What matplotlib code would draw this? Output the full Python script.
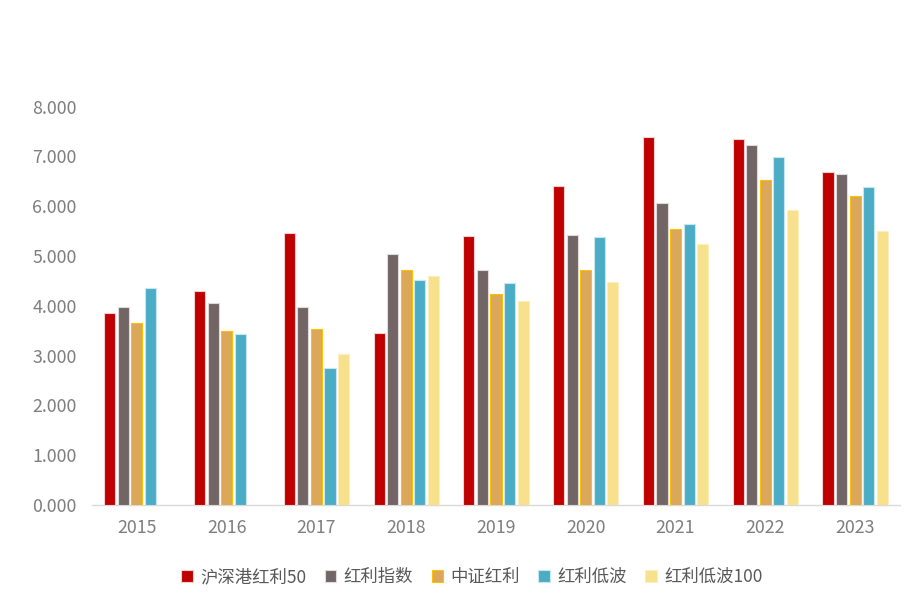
import numpy as np
import matplotlib
matplotlib.use('Agg')
import matplotlib.pyplot as plt

plt.rcParams['font.family'] = ['Noto Sans CJK SC', 'DejaVu Sans']

years = ['2015', '2016', '2017', '2018', '2019', '2020', '2021', '2022', '2023']
series_names = ['沪深港红利50', '红利指数', '中证红利', '红利低波', '红利低波100']

hsg50 = [3.85, 4.30, 5.47, 3.45, 5.40, 6.40, 7.39, 7.35, 6.69]
hlzs = [3.97, 4.06, 3.97, 5.05, 4.72, 5.42, 6.06, 7.24, 6.64]
zzhl = [3.65, 3.50, 3.54, 4.72, 4.23, 4.73, 5.54, 6.53, 6.20]
hldb = [4.36, 3.43, 2.75, 4.52, 4.45, 5.38, 5.64, 6.99, 6.38]
hldb100 = [np.nan, np.nan, 3.03, 4.60, 4.10, 4.47, 5.24, 5.93, 5.51]

colors = ['#C00000', '#726565', '#DBA75A', '#4BACC6', '#F7E18C']
edges = ['#F2D0D0', '#E0DADA', '#FFC000', '#C8E6EF', '#FBEFC0']

fig = plt.figure(figsize=(9.05, 5.97), dpi=100)
ax = fig.add_axes([92 / 905, 1 - 505 / 597, 808 / 905, (505 - 106.7) / 597])

x = np.arange(len(years))
pitch = 0.151
width = 0.123
data = [hsg50, hlzs, zzhl, hldb, hldb100]
for i, (vals, name) in enumerate(zip(data, series_names)):
    ax.bar(x + (i - 2) * pitch, vals, width, color=colors[i], edgecolor=edges[i],
           linewidth=0.8, label=name, zorder=3)

ax.set_xlim(-0.5, len(years) - 0.5)
ax.set_ylim(0, 8)
ax.set_yticks(np.arange(0, 8.01, 1))
ax.set_yticklabels([f'{v:.3f}' for v in np.arange(0, 8.01, 1)])
ax.set_xticks(x)
ax.set_xticklabels(years)
ax.tick_params(axis='both', length=0, colors='#7F7F7F', labelsize=12.8)
ax.tick_params(axis='y', pad=11)
ax.tick_params(axis='x', pad=10)
for s in ['top', 'right', 'left']:
    ax.spines[s].set_visible(False)
ax.spines['bottom'].set_color('#D9D9D9')
ax.spines['bottom'].set_linewidth(1.0)

leg = fig.legend(loc='center', bbox_to_anchor=(472 / 905, 1 - 577 / 597), ncol=5,
                 frameon=False, fontsize=12.5, handlelength=0.65, handleheight=0.65,
                 handletextpad=0.45, columnspacing=1.05)
for t in leg.get_texts():
    t.set_color('#595959')

fig.savefig('out.png', dpi=100, facecolor='white')
